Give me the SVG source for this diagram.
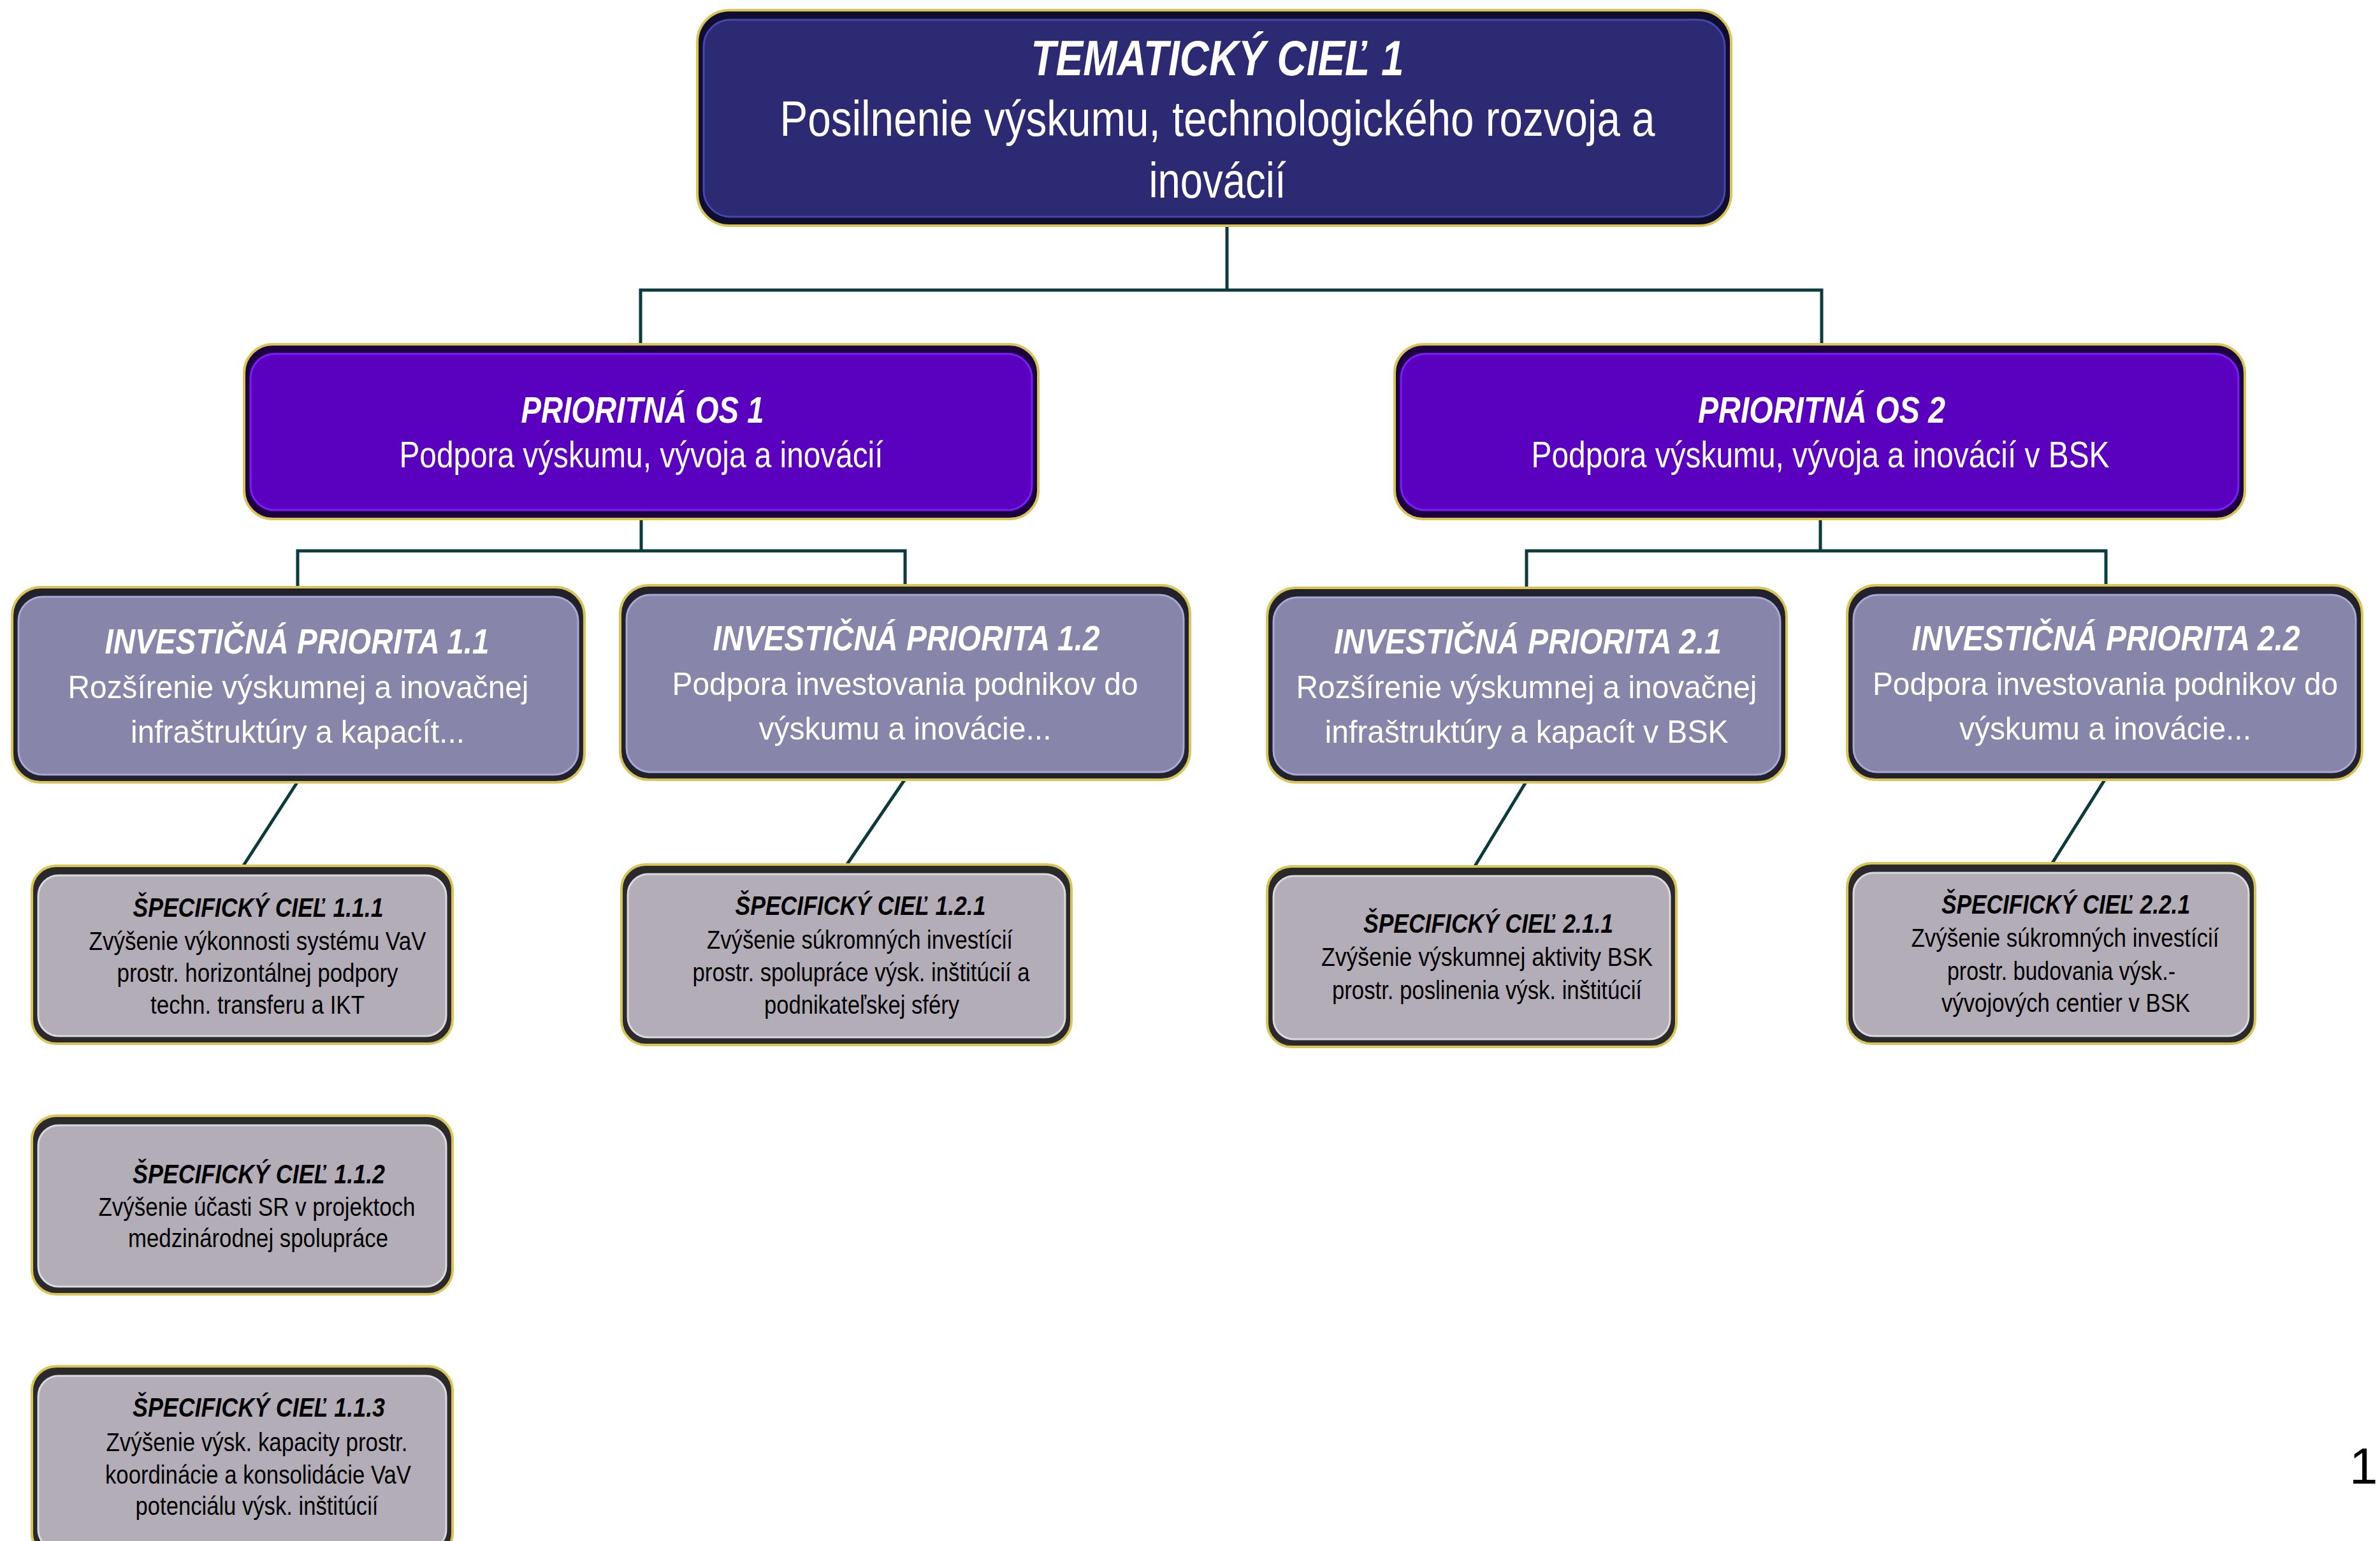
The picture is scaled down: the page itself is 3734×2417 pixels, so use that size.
<svg xmlns="http://www.w3.org/2000/svg" width="3734" height="2417" viewBox="0 0 3734 2417">
<style>
.t{font-family:"Liberation Sans",Arial,sans-serif;text-anchor:middle}
.h{font-weight:bold;font-style:italic}
.w{fill:#ffffff}
.k{fill:#000000}
.glow{stroke:#d9c456;stroke-width:4}
.c{stroke:#0d3a3c;stroke-width:5;fill:none}
.tcF{fill:#100e2e}.tcI{fill:#2c2a72;stroke:#4646b0;stroke-width:3}
.poF{fill:#1c0040}.poI{fill:#5a00bf;stroke:#7c1cff;stroke-width:3}
.ipF{fill:#22222e}.ipI{fill:#8785aa;stroke:#aaa8d2;stroke-width:3}
.scF{fill:#2a2a2c}.scI{fill:#b3adb7;stroke:#dcd8e0;stroke-width:3}
</style>
<rect width="3734" height="2417" fill="#ffffff"/>
<g id="connectors">
<polyline class="c" points="1925,355 1925,455"/>
<polyline class="c" points="1005,540 1005,455 2858,455 2858,540"/>
<polyline class="c" points="1006,815 1006,864"/>
<polyline class="c" points="467,922 467,864 1420,864 1420,919"/>
<polyline class="c" points="2856,815 2856,864"/>
<polyline class="c" points="2395,924 2395,864 3304,864 3304,919"/>
<line class="c" x1="467" y1="1226" x2="381" y2="1359"/>
<line class="c" x1="1420" y1="1222" x2="1328" y2="1357"/>
<line class="c" x1="2395" y1="1225" x2="2313" y2="1360"/>
<line class="c" x1="3304" y1="1220" x2="3219" y2="1355"/>
</g>
<g id="tc1">
<rect class="glow tcF" x="1094" y="16" width="1622" height="338" rx="50"/>
<rect class="tcI" x="1104" y="31" width="1602" height="309" rx="42"/>
<text class="t h w" x="1910" y="118" font-size="78" textLength="585" lengthAdjust="spacingAndGlyphs">TEMATICKÝ CIEĽ 1</text>
<text class="t w" x="1910" y="213" font-size="78" textLength="1373" lengthAdjust="spacingAndGlyphs">Posilnenie výskumu, technologického rozvoja a</text>
<text class="t w" x="1910" y="310" font-size="78" textLength="215" lengthAdjust="spacingAndGlyphs">inovácií</text>
</g>
<g id="po1">
<rect class="glow poF" x="383" y="540" width="1246" height="274" rx="45"/>
<rect class="poI" x="393" y="555" width="1226" height="245" rx="38"/>
<text class="t h w" x="1008" y="663" font-size="58" textLength="381" lengthAdjust="spacingAndGlyphs">PRIORITNÁ OS 1</text>
<text class="t w" x="1006" y="733" font-size="58" textLength="759" lengthAdjust="spacingAndGlyphs">Podpora výskumu, vývoja a inovácií</text>
</g>
<g id="po2">
<rect class="glow poF" x="2188" y="540" width="1334" height="274" rx="45"/>
<rect class="poI" x="2198" y="555" width="1314" height="245" rx="38"/>
<text class="t h w" x="2858" y="663" font-size="58" textLength="388" lengthAdjust="spacingAndGlyphs">PRIORITNÁ OS 2</text>
<text class="t w" x="2856" y="733" font-size="58" textLength="907" lengthAdjust="spacingAndGlyphs">Podpora výskumu, vývoja a inovácií v BSK</text>
</g>
<g id="ip11">
<rect class="glow ipF" x="19" y="921" width="898" height="306" rx="45"/>
<rect class="ipI" x="29" y="936" width="878" height="279" rx="38"/>
<text class="t h w" x="466" y="1025" font-size="56" textLength="603" lengthAdjust="spacingAndGlyphs">INVESTIČNÁ PRIORITA 1.1</text>
<text class="t w" x="468" y="1095" font-size="50" textLength="723" lengthAdjust="spacingAndGlyphs">Rozšírenie výskumnej a inovačnej</text>
<text class="t w" x="467" y="1165" font-size="50" textLength="524" lengthAdjust="spacingAndGlyphs">infraštruktúry a kapacít...</text>
</g>
<g id="ip12">
<rect class="glow ipF" x="973" y="918" width="894" height="305" rx="45"/>
<rect class="ipI" x="983" y="933" width="874" height="278" rx="38"/>
<text class="t h w" x="1422" y="1020" font-size="56" textLength="607" lengthAdjust="spacingAndGlyphs">INVESTIČNÁ PRIORITA 1.2</text>
<text class="t w" x="1420" y="1090" font-size="50" textLength="731" lengthAdjust="spacingAndGlyphs">Podpora investovania podnikov do</text>
<text class="t w" x="1420" y="1160" font-size="50" textLength="459" lengthAdjust="spacingAndGlyphs">výskumu a inovácie...</text>
</g>
<g id="ip21">
<rect class="glow ipF" x="1988" y="922" width="815" height="305" rx="45"/>
<rect class="ipI" x="1998" y="937" width="795" height="278" rx="38"/>
<text class="t h w" x="2397" y="1025" font-size="56" textLength="608" lengthAdjust="spacingAndGlyphs">INVESTIČNÁ PRIORITA 2.1</text>
<text class="t w" x="2395" y="1095" font-size="50" textLength="723" lengthAdjust="spacingAndGlyphs">Rozšírenie výskumnej a inovačnej</text>
<text class="t w" x="2395" y="1165" font-size="50" textLength="633" lengthAdjust="spacingAndGlyphs">infraštruktúry a kapacít v BSK</text>
</g>
<g id="ip22">
<rect class="glow ipF" x="2898" y="918" width="808" height="305" rx="45"/>
<rect class="ipI" x="2908" y="933" width="788" height="278" rx="38"/>
<text class="t h w" x="3304" y="1020" font-size="56" textLength="609" lengthAdjust="spacingAndGlyphs">INVESTIČNÁ PRIORITA 2.2</text>
<text class="t w" x="3303" y="1090" font-size="50" textLength="730" lengthAdjust="spacingAndGlyphs">Podpora investovania podnikov do</text>
<text class="t w" x="3303" y="1160" font-size="50" textLength="458" lengthAdjust="spacingAndGlyphs">výskumu a inovácie...</text>
</g>
<g id="sc111">
<rect class="glow scF" x="50" y="1358" width="660" height="279" rx="38"/>
<rect class="scI" x="60" y="1373" width="640" height="252" rx="32"/>
<text class="t h k" x="405" y="1438" font-size="42" textLength="393" lengthAdjust="spacingAndGlyphs">ŠPECIFICKÝ CIEĽ  1.1.1</text>
<text class="t k" x="404" y="1490" font-size="40" textLength="529" lengthAdjust="spacingAndGlyphs">Zvýšenie výkonnosti systému VaV</text>
<text class="t k" x="404" y="1540" font-size="40" textLength="441" lengthAdjust="spacingAndGlyphs">prostr. horizontálnej podpory</text>
<text class="t k" x="404" y="1590" font-size="40" textLength="336" lengthAdjust="spacingAndGlyphs">techn. transferu a IKT</text>
</g>
<g id="sc112">
<rect class="glow scF" x="50" y="1750" width="660" height="280" rx="38"/>
<rect class="scI" x="60" y="1765" width="640" height="253" rx="32"/>
<text class="t h k" x="406" y="1856" font-size="42" textLength="396" lengthAdjust="spacingAndGlyphs">ŠPECIFICKÝ CIEĽ  1.1.2</text>
<text class="t k" x="403" y="1907" font-size="40" textLength="497" lengthAdjust="spacingAndGlyphs">Zvýšenie účasti SR v projektoch</text>
<text class="t k" x="405" y="1956" font-size="40" textLength="408" lengthAdjust="spacingAndGlyphs">medzinárodnej spolupráce</text>
</g>
<g id="sc113">
<rect class="glow scF" x="50" y="2143" width="660" height="300" rx="38"/>
<rect class="scI" x="60" y="2158" width="640" height="273" rx="32"/>
<text class="t h k" x="406" y="2222" font-size="42" textLength="396" lengthAdjust="spacingAndGlyphs">ŠPECIFICKÝ CIEĽ  1.1.3</text>
<text class="t k" x="403" y="2276" font-size="40" textLength="473" lengthAdjust="spacingAndGlyphs">Zvýšenie výsk. kapacity prostr.</text>
<text class="t k" x="405" y="2327" font-size="40" textLength="480" lengthAdjust="spacingAndGlyphs">koordinácie a konsolidácie VaV</text>
<text class="t k" x="403" y="2376" font-size="40" textLength="381" lengthAdjust="spacingAndGlyphs">potenciálu výsk. inštitúcií</text>
</g>
<g id="sc121">
<rect class="glow scF" x="975" y="1356" width="706" height="283" rx="38"/>
<rect class="scI" x="985" y="1371" width="686" height="256" rx="32"/>
<text class="t h k" x="1350" y="1435" font-size="42" textLength="393" lengthAdjust="spacingAndGlyphs">ŠPECIFICKÝ CIEĽ  1.2.1</text>
<text class="t k" x="1349" y="1488" font-size="40" textLength="480" lengthAdjust="spacingAndGlyphs">Zvýšenie súkromných investícií</text>
<text class="t k" x="1351" y="1539" font-size="40" textLength="529" lengthAdjust="spacingAndGlyphs">prostr. spolupráce výsk. inštitúcií a</text>
<text class="t k" x="1352" y="1590" font-size="40" textLength="306" lengthAdjust="spacingAndGlyphs">podnikateľskej sféry</text>
</g>
<g id="sc211">
<rect class="glow scF" x="1988" y="1359" width="642" height="283" rx="38"/>
<rect class="scI" x="1998" y="1374" width="622" height="256" rx="32"/>
<text class="t h k" x="2335" y="1463" font-size="42" textLength="392" lengthAdjust="spacingAndGlyphs">ŠPECIFICKÝ CIEĽ  2.1.1</text>
<text class="t k" x="2333" y="1515" font-size="40" textLength="520" lengthAdjust="spacingAndGlyphs">Zvýšenie výskumnej aktivity  BSK</text>
<text class="t k" x="2333" y="1567" font-size="40" textLength="486" lengthAdjust="spacingAndGlyphs">prostr. poslinenia výsk. inštitúcií</text>
</g>
<g id="sc221">
<rect class="glow scF" x="2898" y="1354" width="640" height="283" rx="38"/>
<rect class="scI" x="2908" y="1369" width="620" height="256" rx="32"/>
<text class="t h k" x="3241" y="1433" font-size="42" textLength="390" lengthAdjust="spacingAndGlyphs">ŠPECIFICKÝ CIEĽ  2.2.1</text>
<text class="t k" x="3240" y="1485" font-size="40" textLength="483" lengthAdjust="spacingAndGlyphs">Zvýšenie súkromných investícií</text>
<text class="t k" x="3234" y="1537" font-size="40" textLength="358" lengthAdjust="spacingAndGlyphs">prostr. budovania výsk.-</text>
<text class="t k" x="3241" y="1587" font-size="40" textLength="390" lengthAdjust="spacingAndGlyphs">vývojových centier v BSK</text>
</g>
<text x="3686" y="2327" font-family="Liberation Sans,Arial,sans-serif" font-size="80" fill="#000000">1</text>
</svg>
